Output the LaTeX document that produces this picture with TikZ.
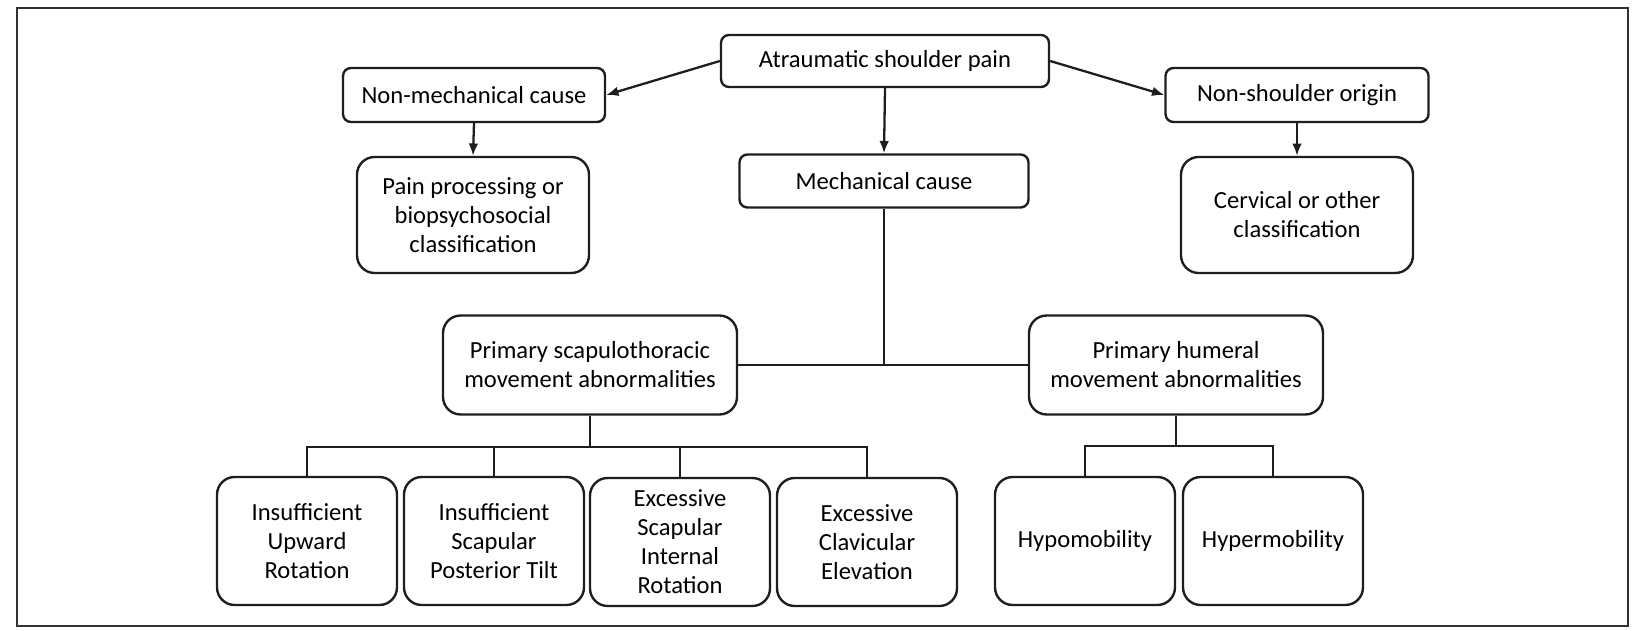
\documentclass[tikz,border=0pt]{standalone}
\usepackage{fontspec}
\setmainfont{Carlito}
\usetikzlibrary{arrows.meta,positioning}
\definecolor{framegray}{RGB}{50,50,50}
\definecolor{linegray}{RGB}{30,30,30}

\tikzset{
  box/.style={draw=linegray, rectangle, rounded corners=4.5pt, line width=1.35pt, align=center, inner sep=0pt, font=\fontsize{14}{16.5}\selectfont},
  tallbox/.style={box, rounded corners=10pt},
  link/.style={draw=linegray, line width=1.3pt},
  arr/.style={link, -{Latex[length=7pt,width=5.5pt]}}
}

\begin{document}
\begin{tikzpicture}[x=0.02cm, y=-0.02cm]
    \useasboundingbox (0,0) rectangle (1635,631);
    \draw[framegray, line width=1.6pt] (17,8) rectangle (1628,626);

    % top levels
    \node[box, minimum width=6.56cm, minimum height=1.04cm] (atr) at (885,61) {Atraumatic shoulder pain};
    \node[box, minimum width=5.24cm, minimum height=1.08cm] (nonmech) at (474,95) {Non-mechanical cause};
    \node[box, minimum width=5.26cm, minimum height=1.08cm] (nonsh) at (1297,95) {Non-shoulder origin};
    \node[tallbox, minimum width=4.64cm, minimum height=2.32cm] (pain) at (473,215) {Pain processing or\\biopsychosocial\\classification};
    \node[box, minimum width=5.78cm, minimum height=1.06cm] (mech) at (884,181) {Mechanical cause};
    \node[tallbox, minimum width=4.64cm, minimum height=2.32cm] (cerv) at (1297,215) {Cervical or other\\classification};

    % middle level
    \node[tallbox, minimum width=5.88cm, minimum height=1.98cm] (scap) at (590,365) {Primary scapulothoracic\\movement abnormalities};
    \node[tallbox, minimum width=5.88cm, minimum height=1.98cm] (hum) at (1176,365) {Primary humeral\\movement abnormalities};

    % bottom level
    \node[tallbox, minimum width=3.6cm, minimum height=2.56cm] (iur) at (307,541) {Insufficient\\Upward\\Rotation};
    \node[tallbox, minimum width=3.6cm, minimum height=2.56cm] (isp) at (494,541) {Insufficient\\Scapular\\Posterior Tilt};
    \node[tallbox, minimum width=3.6cm, minimum height=2.56cm] (esi) at (680,542) {Excessive\\Scapular\\Internal\\Rotation};
    \node[tallbox, minimum width=3.6cm, minimum height=2.56cm] (ecl) at (867,542) {Excessive\\Clavicular\\Elevation};
    \node[tallbox, minimum width=3.6cm, minimum height=2.56cm] (hypo) at (1085,541) {Hypomobility};
    \node[tallbox, minimum width=3.6cm, minimum height=2.56cm] (hyper) at (1273,541) {Hypermobility};

    \coordinate (scapbus) at (590,447);
    \coordinate (humbus) at (1176,446);

    % arrows
    \draw[arr] (atr.west) -- (nonmech.east);
    \draw[arr] (atr.east) -- (nonsh.west);
    \draw[arr] (atr.south) -- (mech.north);
    \draw[arr] (nonmech.south) -- (pain.north);
    \draw[arr] (nonsh.south) -- (cerv.north);

    % tree lines
    \draw[link] (mech.south) -- (mech.south |- scap.east);
    \draw[link] (scap.east) -- (hum.west);
    \draw[link] (scap.south) -- (scapbus);
    \draw[link] (iur.north) |- (scapbus) -| (ecl.north);
    \foreach \n in {isp,esi}
        \draw[link] (\n.north) -- (\n.north |- scapbus);
    \draw[link] (hum.south) -- (humbus);
    \draw[link] (hypo.north) |- (humbus) -| (hyper.north);
\end{tikzpicture}
\end{document}
